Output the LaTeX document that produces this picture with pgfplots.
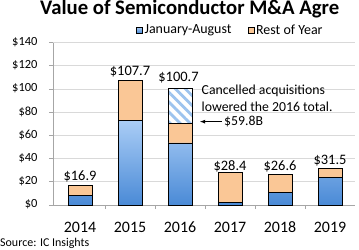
\documentclass[border=0pt]{standalone}
\usepackage{pgfplots}
\pgfplotsset{compat=1.18}
\usepackage{fontspec}
\setmainfont{Carlito}
\usetikzlibrary{patterns.meta}
\definecolor{bluetop}{HTML}{AACDF6}
\definecolor{bluebot}{HTML}{4A8AD6}
\definecolor{peach}{HTML}{FAC796}
\definecolor{stripe}{HTML}{9CC3EE}
\definecolor{gridgray}{HTML}{D9D9D9}
\definecolor{axisgray}{HTML}{A6A6A6}
\begin{document}
\begin{tikzpicture}
\begin{axis}[
  at={(0,0)}, anchor=south west,
  scale only axis, width=302bp, height=162.3bp,
  xmin=-0.54, xmax=5.5, ymin=0, ymax=140,
  ybar stacked, bar width=24bp,
  axis x line=bottom, axis y line=left,
  axis line style={axisgray, line width=0.8pt, -},
  xtick={0,1,2,3,4,5},
  xticklabels={2014,2015,2016,2017,2018,2019},
  minor xtick={0.5,1.5,2.5,3.5,4.5},
  major x tick style={draw=none},
  minor x tick style={axisgray, line width=0.8pt},
  minor tick length=4bp,
  ytick={0,20,...,140},
  major y tick style={axisgray, line width=0.8pt},
  major tick length=4bp,
  tick align=outside,
  ymajorgrids, grid style={gridgray, line width=0.8pt},
  yticklabels={\$0,\$20,\$40,\$60,\$80,\$100,\$120,\$140},
  yticklabel style={font=\fontsize{12.5}{14}\selectfont, anchor=east, xshift=-8bp},
  typeset ticklabels with strut,
  xticklabel style={font=\fontsize{16}{18}\selectfont, yshift=-7bp},
  legend style={at={(0.587,1.078)}, anchor=center, draw=none, fill=none,
    legend columns=2, font=\fontsize{14}{16}\selectfont,
    /tikz/every even column/.append style={column sep=14bp}},
  legend image code/.code={\draw[#1, draw=black, line width=0.6pt] (0bp,-3bp) rectangle (6bp,3bp);},
  clip=false,
]
\addplot[draw=black, line width=0.9pt, top color=bluetop, bottom color=bluebot] coordinates {(0,8.4) (1,73.1) (2,53.5) (3,1.8) (4,10.6) (5,23.9)};
\addlegendentry{January-August}
\addplot[draw=black, line width=0.9pt, fill=peach] coordinates {(0,8.5) (1,34.6) (2,17.0) (3,26.6) (4,16.0) (5,7.6)};
\addlegendentry{Rest of Year}
\addplot[draw=black, line width=0.9pt, fill=white, postaction={pattern={Lines[angle=-45, distance=7bp, line width=2.8bp]}, pattern color=stripe}, forget plot] coordinates {(0,0) (1,0) (2,30.2) (3,0) (4,0) (5,0)};
\node[font=\fontsize{14.5}{16}\selectfont] at (axis cs:0,16.9) [yshift=8.5bp] {\$16.9};
\node[font=\fontsize{14.5}{16}\selectfont] at (axis cs:1,107.7) [yshift=8.5bp] {\$107.7};
\node[font=\fontsize{14.5}{16}\selectfont] at (axis cs:1.97,100.7) [yshift=10.5bp] {\$100.7};
\node[font=\fontsize{14.5}{16}\selectfont] at (axis cs:3,28.4) [yshift=6bp] {\$28.4};
\node[font=\fontsize{14.5}{16}\selectfont] at (axis cs:4,26.6) [yshift=8bp] {\$26.6};
\node[font=\fontsize{14.5}{16}\selectfont] at (axis cs:5,31.5) [yshift=8bp] {\$31.5};
\node[anchor=west, align=left, inner sep=0pt, font=\fontsize{13.8}{16.7}\selectfont] at (axis cs:2.43,92) {Cancelled acquisitions\\lowered the 2016 total.};
\draw[-latex, line width=0.8pt] (axis cs:2.834,71.9) -- (axis cs:2.40,71.9);
\node[anchor=west, inner sep=0pt, font=\fontsize{13.8}{16}\selectfont] at (axis cs:2.88,71.9) {\$59.8B};
\end{axis}
\node[anchor=base west, inner sep=0pt, font=\bfseries\fontsize{20.8}{24}\selectfont] at (-13bp,190bp) {Value of Semiconductor M\&A Agre};
\node[anchor=west, inner sep=0pt, font=\fontsize{12}{14}\selectfont] at (-53bp,-38.5bp) {Source: IC Insights};
\pgfresetboundingbox
\useasboundingbox (-53bp,-45bp) rectangle (306bp,205bp);
\end{tikzpicture}
\end{document}
